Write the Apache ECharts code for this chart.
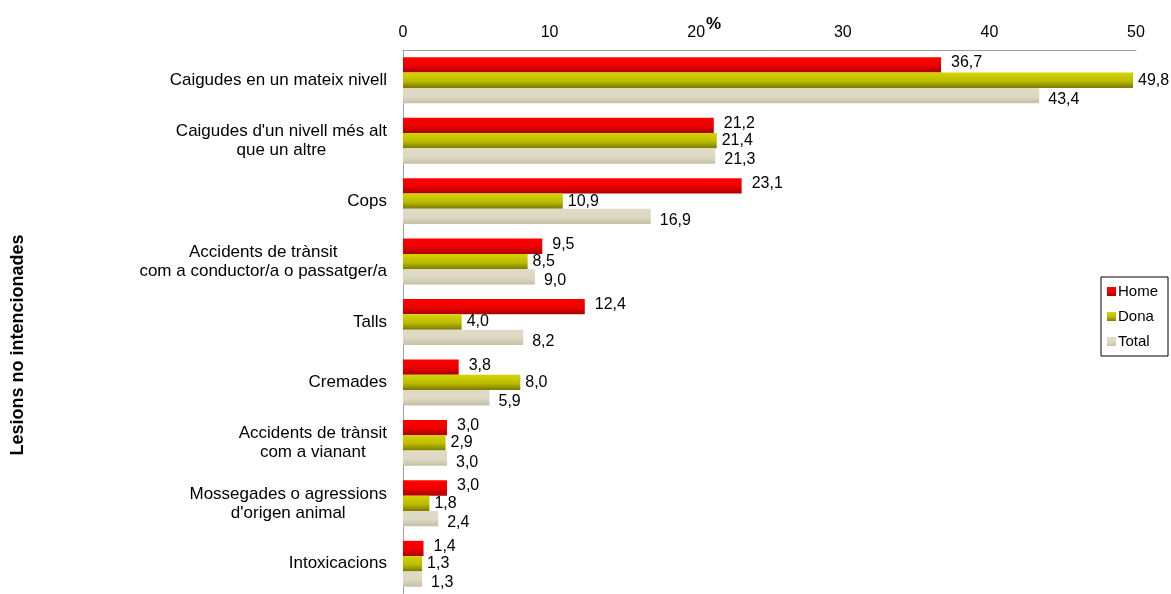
<!DOCTYPE html>
<html>
<head>
<meta charset="utf-8">
<script src="https://cdn.jsdelivr.net/npm/echarts@6/dist/echarts.min.js"></script>
<style>html,body{margin:0;padding:0;background:#fff;}#c{width:1171px;height:594px;}</style>
</head>
<body>
<div id="c"></div>
<script>
const categories = [
  "Caigudes en un mateix nivell",
  "Caigudes d'un nivell més alt\nque un altre",
  "Cops",
  "Accidents de trànsit\ncom a conductor/a o passatger/a",
  "Talls",
  "Cremades",
  "Accidents de trànsit\ncom a vianant",
  "Mossegades o agressions\nd'origen animal",
  "Intoxicacions"
];
const home  = [36.7, 21.2, 23.1, 9.5, 12.4, 3.8, 3.0, 3.0, 1.4];
const dona  = [49.8, 21.4, 10.9, 8.5, 4.0, 8.0, 2.9, 1.8, 1.3];
const total = [43.4, 21.3, 16.9, 9.0, 8.2, 5.9, 3.0, 2.4, 1.3];
const xTicks = [0, 10, 20, 30, 40, 50];

const FONT = '"Liberation Sans", Arial, sans-serif';
const fmt = v => v.toFixed(1).replace('.', ',');
function grad(c0, c1, c2) {
  return new echarts.graphic.LinearGradient(0, 0, 0, 1, [
    {offset: 0, color: c0}, {offset: 0.55, color: c1}, {offset: 1, color: c2}
  ]);
}
function lbl(dist, dy) {
  return {show: true, position: 'right', distance: dist, offset: [0, dy],
    formatter: p => fmt(p.value), color: '#000', fontSize: 16, fontFamily: FONT};
}
const chart = echarts.init(document.getElementById('c'));
chart.setOption({
  animation: false,
  backgroundColor: '#fff',
  textStyle: {fontFamily: FONT},
  grid: {left: 403, right: 35, top: 50, height: 549, containLabel: false},
  title: {text: '%', left: 701, top: 11, textStyle: {fontSize: 17, fontWeight: 'bold', color: '#000', fontFamily: FONT}},
  graphic: [{type: 'text', x: 18, y: 345, rotation: Math.PI / 2,
    style: {text: 'Lesions no intencionades', fontSize: 18, fontWeight: 'bold', fill: '#000',
      fontFamily: FONT, align: 'center', verticalAlign: 'middle'}}],
  legend: {
    orient: 'vertical', left: 1101, top: 277, itemWidth: 9, itemHeight: 9, itemGap: 10,
    borderColor: '#000', borderWidth: 1, borderRadius: 0, padding: [7, 10, 7, 6],
    textStyle: {fontSize: 15, color: '#000', fontFamily: FONT, padding: [0, 0, 0, -3]},
    icon: 'rect',
    data: ['Home', 'Dona', 'Total']
  },
  xAxis: {
    type: 'value', position: 'top', min: xTicks[0], max: xTicks[xTicks.length - 1], interval: 10,
    axisLine: {show: true, lineStyle: {color: '#a0a0a0', width: 1}},
    axisTick: {show: false}, splitLine: {show: false},
    axisLabel: {fontSize: 16, color: '#000', margin: 9, fontFamily: FONT}
  },
  yAxis: {
    type: 'category', inverse: true, data: categories,
    axisLine: {show: true, lineStyle: {color: '#a0a0a0', width: 1}},
    axisTick: {show: false},
    axisLabel: {
      fontSize: 17, color: '#000', margin: 16, fontFamily: FONT, lineHeight: 19,
      formatter: v => v.split('\n').map(l => '{c|' + l + '}').join('\n'),
      rich: {c: {align: 'center', fontSize: 17, lineHeight: 19, color: '#000', fontFamily: FONT}}
    }
  },
  series: [
    {name: 'Home', type: 'bar', data: home, barGap: '0%', barCategoryGap: '24%',
      itemStyle: {color: grad('#ff0000', '#ee0000', '#a80000')}, label: lbl(10, -2)},
    {name: 'Dona', type: 'bar', data: dona, barGap: '0%', barCategoryGap: '24%',
      itemStyle: {color: grad('#d4d400', '#bcbc00', '#7a7a00')}, label: lbl(5, 0)},
    {name: 'Total', type: 'bar', data: total, barGap: '0%', barCategoryGap: '24%',
      itemStyle: {color: grad('#e0dbc6', '#ddd8c2', '#c6c0a6')}, label: lbl(9, 4)}
  ]
});
</script>
</body>
</html>
